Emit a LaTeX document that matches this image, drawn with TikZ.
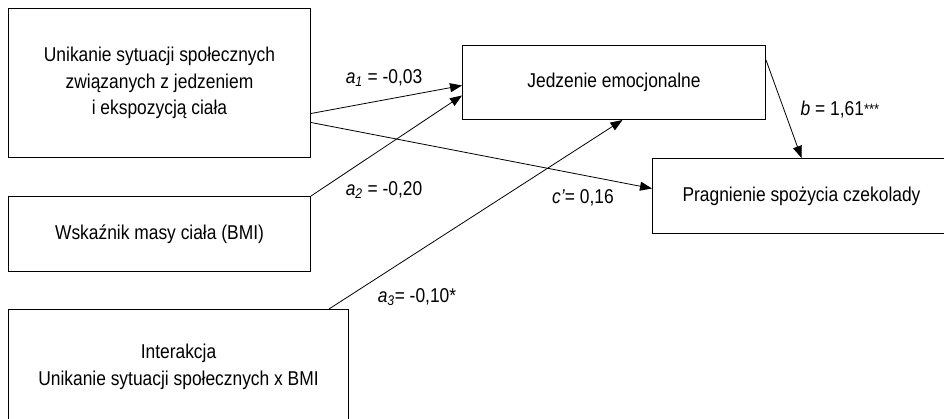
\documentclass[tikz,border=0pt]{standalone}
\usepackage{fontspec}
\setmainfont[FakeStretch=0.87]{Liberation Sans}
\usetikzlibrary{arrows.meta, positioning}
\tikzset{>={Triangle[width=9pt,length=12pt]}}
\tikzset{
  var/.style = {draw, line width=1pt, anchor=north west, align=center,
    inner sep=0pt, font=\fontsize{20}{26.7}\selectfont},
  coef/.style = {inner sep=0pt, font=\fontsize{20}{24}\selectfont},
  path/.style = {->, line width=0.8pt}
}
\newcommand{\stars}[1]{\raisebox{1.5pt}{\fontsize{15}{15}\selectfont #1}}

\begin{document}
\begin{tikzpicture}[x=1pt, y=-1pt]
\clip (0,0) rectangle (944,419);
% zmienne
\node (avoid) [var, minimum width=302pt, minimum height=149pt] at (8,8)
  {Unikanie sytuacji społecznych\\ związanych z jedzeniem\\ i ekspozycją ciała};
\node (bmi) [var, minimum width=302pt, minimum height=75pt] at (8,196)
  {Wskaźnik masy ciała (BMI)};
\node (inter) [var, minimum width=340pt, minimum height=114pt] at (8,309)
  {Interakcja\\ Unikanie sytuacji społecznych x BMI};
\node (emo) [var, minimum width=303pt, minimum height=74pt] at (462,45)
  {Jedzenie emocjonalne};
\node (choc) [var, minimum width=298pt, minimum height=75pt] at (652,158)
  {Pragnienie spożycia czekolady};
% sciezki
\draw[path] ([yshift=-30.5pt]avoid.east) -- ([yshift=-3pt]emo.west);
\draw[path] (bmi.north east) -- ([yshift=-13pt]emo.west);
\draw[path] ([xshift=-20pt]inter.north east) -- ([xshift=8.5pt]emo.south);
\draw[path] ([yshift=-39.5pt]avoid.east) -- ([yshift=7.5pt]choc.west);
\draw[path] ([yshift=-15pt]emo.north east) -- (choc.north);
% wspolczynniki
\node (ca1) [coef] at (384,78) {\textit{a}\textsubscript{\textit{1}} = -0,03};
\node (ca2) [coef] at (384,190) {\textit{a}\textsubscript{\textit{2}} = -0,20};
\node (ca3) [coef] at (417,297) {\textit{a}\textsubscript{\textit{3}}= -0,10*};
\node (cc) [coef] at (583,198) {\textit{c’}= 0,16};
\node (cb) [coef] at (840,110) {\textit{b} = 1,61\stars{***}};
\end{tikzpicture}
\end{document}
